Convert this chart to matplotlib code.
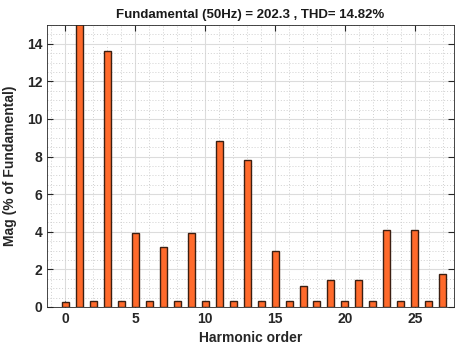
import matplotlib
matplotlib.use("Agg")
import matplotlib.pyplot as plt
from matplotlib.ticker import MultipleLocator

# --- data ---
harmonic_order = list(range(28))
mag_pct = [0.25, 100.0, 0.3, 13.6, 0.3, 3.96, 0.3, 3.2, 0.3, 3.96,
           0.3, 8.81, 0.3, 7.84, 0.3, 2.98, 0.3, 1.13, 0.3, 1.45,
           0.3, 1.45, 0.3, 4.08, 0.3, 4.12, 0.3, 1.78]
x_ticks = [0, 5, 10, 15, 20, 25]
y_ticks = [0, 2, 4, 6, 8, 10, 12, 14]
title_text = "Fundamental (50Hz) = 202.3 , THD= 14.82%"

plt.rcParams['font.family'] = ['Liberation Sans', 'DejaVu Sans']

fig = plt.figure(figsize=(4.55, 3.47), dpi=100)
ax = fig.add_axes([0.1033, 0.1153, 0.8947, 0.8127])

# グリッドは棒の下に
ax.set_axisbelow(True)
ax.bar(harmonic_order, mag_pct, width=0.5, color='#ff6a2b',
       edgecolor='#3b1f12', linewidth=1.0)

ax.set_xlim(-1.3, 27.8)
ax.set_ylim(0, 15)
ax.set_xticks(x_ticks)
ax.set_yticks(y_ticks)
ax.xaxis.set_minor_locator(MultipleLocator(1))
ax.yaxis.set_minor_locator(MultipleLocator(0.5))

ax.grid(True, which='major', color='#dcdcdc', linewidth=0.8, linestyle='-')
ax.grid(True, which='minor', color='#d0d0d0', linewidth=0.7, linestyle=(0, (1, 2)))

ax.tick_params(which='both', direction='in', top=True, right=True,
               colors='#262626', labelsize=10)
ax.tick_params(which='major', length=4)
ax.tick_params(which='minor', length=0)
for lab in ax.get_xticklabels() + ax.get_yticklabels():
    lab.set_fontweight('bold')
for sp in ax.spines.values():
    sp.set_color('#262626')
    sp.set_linewidth(0.6)

ax.set_title(title_text, fontsize=9.5, fontweight='bold', color='#1a1a1a', pad=5)
ax.set_xlabel("Harmonic order", fontsize=10, fontweight='bold', color='#262626', labelpad=4)
ax.set_ylabel("Mag (% of Fundamental)", fontsize=10, fontweight='bold', color='#262626', labelpad=7)

fig.savefig("out.png", dpi=100)
